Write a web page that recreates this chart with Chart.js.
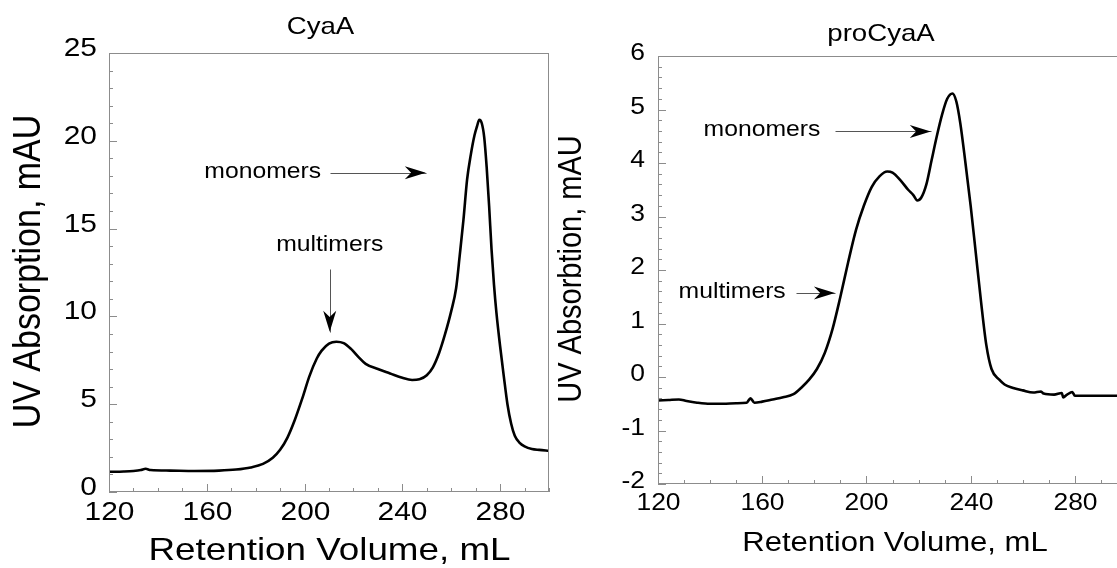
<!DOCTYPE html>
<html lang="en">
<head>
  <meta charset="UTF-8">
  <title>CyaA / proCyaA elution profiles</title>
  <script src="https://cdn.jsdelivr.net/npm/chart.js"></script>
  <style>
    body {
      margin: 0;
      background: #fff;
      width: 1117px;
      height: 568px;
      overflow: hidden;
      position: relative;
    }
    canvas { position: absolute; top: 0; }
    #cyaa { left: 0; }
    #procyaa { left: 545px; }
  </style>
</head>
<body>
  <canvas id="cyaa" width="560" height="568"></canvas>
  <canvas id="procyaa" width="640" height="568"></canvas>

  <script>
    // axis ranges and tick steps
    const volumeRange = [120, 300];
    const volumeSteps = [40, 10];
    const cyaaRange = [0, 25];
    const cyaaSteps = [5, 1];
    const procyaaRange = [-2, 6];
    const procyaaSteps = [1, 0.2];

    // CyaA trace (retention volume mL, UV mAU)
    const cyaaVolume = [120, 126, 130, 133, 135, 137, 145, 155, 165, 172, 178, 183, 187, 190, 193, 196, 199, 202, 205, 207,
      210, 213, 216, 219, 222, 225, 230, 235, 240, 244, 247, 250, 252.5, 255, 257.5, 260, 262, 263.5, 265, 266.5,
      268, 269.5, 270.5, 271.5, 272.5, 273.5, 274.5, 275.5, 276.5, 277.5, 278.5, 280, 281.5, 283, 284.5, 286, 288, 290, 293, 296, 300];
    const cyaaAbs = [1.15, 1.17, 1.2, 1.25, 1.32, 1.25, 1.22, 1.2, 1.22, 1.28, 1.4, 1.6, 1.95, 2.4, 3.1, 4.1, 5.3, 6.6, 7.6, 8.05,
      8.45, 8.56, 8.48, 8.15, 7.7, 7.3, 7.0, 6.75, 6.5, 6.38, 6.42, 6.65, 7.1, 7.9, 9.0, 10.3, 11.6, 13.5, 15.5, 17.8,
      19.2, 20.3, 20.8, 21.2, 21.0, 20.2, 18.5, 16.3, 13.8, 11.8, 10.2, 8.3, 6.6, 5.0, 3.9, 3.2, 2.8, 2.6, 2.45, 2.4, 2.35];

    // proCyaA trace
    const procyaaVolume = [120, 124, 128, 131, 135, 140, 145, 150, 154, 155.5, 157, 160, 164, 168, 172, 175, 178, 181, 184, 187,
      190, 193, 196, 199, 202, 205, 208, 210, 213, 216, 218, 219.5, 221, 223, 225, 227, 229, 231, 233, 234.5,
      236, 238, 240, 242, 244, 246, 248, 251, 253, 256, 260, 264, 267, 268, 272, 275, 275.5, 277, 279, 280, 284, 300];
    const procyaaAbs = [-0.44, -0.43, -0.42, -0.45, -0.48, -0.5, -0.5, -0.49, -0.48, -0.4, -0.48, -0.46, -0.42, -0.38, -0.32, -0.2, -0.05, 0.15, 0.45, 0.9,
      1.5, 2.15, 2.75, 3.2, 3.55, 3.75, 3.84, 3.82, 3.68, 3.5, 3.4, 3.3, 3.35, 3.6, 4.05, 4.5, 4.9, 5.2, 5.3, 5.15,
      4.75, 4.0, 3.2, 2.3, 1.4, 0.6, 0.15, -0.05, -0.14, -0.2, -0.25, -0.29, -0.27, -0.31, -0.33, -0.3, -0.38, -0.33, -0.28, -0.35, -0.35, -0.35];

    // arrow notes, in data units
    const cyaaNotes = [
      { text: "monomers", x: 159, y: 18.2, align: "left", from: [210.3, 18.18], to: [249.6, 18.18] },
      { text: "multimers", x: 210.3, y: 14.07, align: "center", from: [210.3, 12.68], to: [210.3, 9.13] }
    ];
    const procyaaNotes = [
      { text: "monomers", x: 137.5, y: 4.62, align: "left", from: [187.9, 4.59], to: [224.7, 4.59] },
      { text: "multimers", x: 127.9, y: 1.58, align: "left", from: [172.9, 1.57], to: [187.9, 1.57] }
    ];

    const FONT = "'Liberation Sans', Arial, Helvetica, sans-serif";
    const GRAY = "#8c8c8c";
    const STRETCH = 1.15; // the figure's lettering is a bit wide

    function pairs(xs, ys) {
      return xs.map((x, i) => ({ x: x, y: ys[i] }));
    }

    function text(ctx, str, x, y, size, align, rotate) {
      ctx.save();
      ctx.translate(x, y);
      if (rotate) {
        ctx.rotate(-Math.PI / 2);
        ctx.scale(1, STRETCH);
      } else {
        ctx.scale(STRETCH, 1);
      }
      ctx.font = size + "px " + FONT;
      ctx.textAlign = align;
      ctx.textBaseline = "middle";
      ctx.fillText(str, 0, 0);
      ctx.restore();
    }

    function arrowHead(ctx, x1, y1, x2, y2) {
      const a = Math.atan2(y2 - y1, x2 - x1);
      const L = 21, W = 6.5;
      const cos = Math.cos(a), sin = Math.sin(a);
      ctx.beginPath();
      ctx.moveTo(x2, y2);
      ctx.lineTo(x2 - L * cos + W * sin, y2 - L * sin - W * cos);
      ctx.lineTo(x2 - 0.7 * L * cos, y2 - 0.7 * L * sin);
      ctx.lineTo(x2 - L * cos - W * sin, y2 - L * sin + W * cos);
      ctx.closePath();
      ctx.fill();
    }

    function tickLine(ctx, x1, y1, x2, y2) {
      ctx.beginPath();
      ctx.moveTo(x1, y1);
      ctx.lineTo(x2, y2);
      ctx.stroke();
    }

    // frame, inward ticks, tick labels, titles and arrows
    const decor = {
      id: "decor",
      afterDraw(chart, args, o) {
        const ctx = chart.ctx, a = chart.chartArea;
        const sx = chart.scales.x, sy = chart.scales.y;
        ctx.save();
        ctx.strokeStyle = GRAY;
        ctx.lineWidth = 1;
        ctx.strokeRect(a.left + 0.5, a.top + 0.5, a.right - a.left - 1, a.bottom - a.top - 1);

        // minor ticks
        for (let v = sx.min; v <= sx.max + 1e-6; v += o.xMinor) {
          const px = Math.round(sx.getPixelForValue(v)) + 0.5;
          tickLine(ctx, px, a.bottom, px, a.bottom - 4);
        }
        for (let i = 0; sy.min + i * o.yMinor <= sy.max + 1e-6; i++) {
          const py = Math.round(sy.getPixelForValue(sy.min + i * o.yMinor)) + 0.5;
          tickLine(ctx, a.left, py, a.left + 4, py);
        }
        // major ticks with labels
        ctx.fillStyle = "#000";
        sx.ticks.forEach(t => {
          const px = Math.round(sx.getPixelForValue(t.value)) + 0.5;
          tickLine(ctx, px, a.bottom, px, a.bottom - 8);
          text(ctx, t.label, px, a.bottom + o.xLabelGap, o.tickSize, "center");
        });
        sy.ticks.forEach(t => {
          const py = Math.round(sy.getPixelForValue(t.value)) + 0.5;
          tickLine(ctx, a.left, py, a.left + 8, py);
          text(ctx, t.label, a.left - o.yLabelGap, py + o.yLabelShift, o.tickSize, "right");
        });

        text(ctx, o.title.text, o.title.x, o.title.y, o.title.size, "center");
        text(ctx, o.xLabel.text, o.xLabel.x, o.xLabel.y, o.xLabel.size, "center");
        text(ctx, o.yLabel.text, o.yLabel.x, o.yLabel.y, o.yLabel.size, "center", true);

        o.notes.forEach(n => {
          text(ctx, n.text, sx.getPixelForValue(n.x), sy.getPixelForValue(n.y), o.noteSize, n.align);
          const x1 = sx.getPixelForValue(n.from[0]), y1 = sy.getPixelForValue(n.from[1]);
          const x2 = sx.getPixelForValue(n.to[0]), y2 = sy.getPixelForValue(n.to[1]);
          ctx.strokeStyle = "#555";
          tickLine(ctx, Math.round(x1) + 0.5, Math.round(y1) + 0.5, Math.round(x2) + 0.5, Math.round(y2) + 0.5);
          arrowHead(ctx, x1, y1, x2, y2);
        });
        ctx.restore();
      }
    };

    function makeChart(id, s) {
      return new Chart(document.getElementById(id), {
        type: "line",
        data: {
          datasets: [{
            data: pairs(s.xs, s.ys),
            borderColor: "#000",
            borderWidth: 2.6,
            pointRadius: 0,
            cubicInterpolationMode: "monotone",
            fill: false
          }]
        },
        options: {
          responsive: false,
          animation: false,
          layout: { padding: s.padding },
          plugins: {
            legend: { display: false },
            tooltip: { enabled: false },
            decor: s.decor
          },
          scales: {
            x: {
              type: "linear", display: false,
              min: volumeRange[0], max: volumeRange[1],
              ticks: { stepSize: volumeSteps[0], includeBounds: false }
            },
            y: {
              type: "linear", display: false,
              min: s.yRange[0], max: s.yRange[1],
              ticks: { stepSize: s.ySteps[0] }
            }
          }
        },
        plugins: [decor]
      });
    }

    makeChart("cyaa", {
      xs: cyaaVolume, ys: cyaaAbs, yRange: cyaaRange, ySteps: cyaaSteps,
      padding: { top: 53, right: 11, bottom: 76, left: 109 },
      decor: {
        xMinor: volumeSteps[1], yMinor: cyaaSteps[1],
        tickSize: 26, xLabelGap: 21, yLabelGap: 12, yLabelShift: -5, noteSize: 21.5,
        title: { text: "CyaA", x: 320.5, y: 27.5, size: 24 },
        xLabel: { text: "Retention Volume, mL", x: 329.5, y: 551.5, size: 32 },
        yLabel: { text: "UV Absorption, mAU", x: 29, y: 271.5, size: 34 },
        notes: cyaaNotes
      }
    });

    makeChart("procyaa", {
      xs: procyaaVolume, ys: procyaaAbs, yRange: procyaaRange, ySteps: procyaaSteps,
      padding: { top: 56, right: 58, bottom: 84, left: 113 },
      decor: {
        xMinor: volumeSteps[1], yMinor: procyaaSteps[1],
        tickSize: 23, xLabelGap: 20, yLabelGap: 13, yLabelShift: -3, noteSize: 21.5,
        title: { text: "proCyaA", x: 336, y: 34.5, size: 24 },
        xLabel: { text: "Retention Volume, mL", x: 350, y: 544, size: 27 },
        yLabel: { text: "UV Absorbtion, mAU", x: 26.5, y: 269, size: 29 },
        notes: procyaaNotes
      }
    });
  </script>
</body>
</html>
